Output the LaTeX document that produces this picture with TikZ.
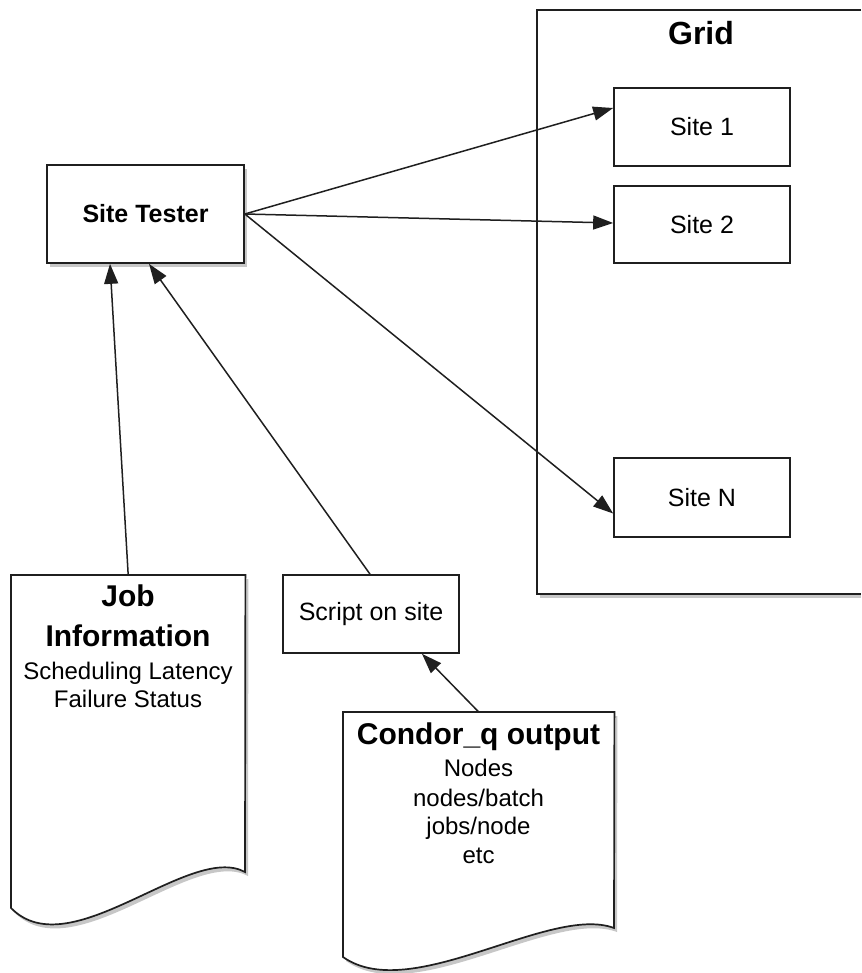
\documentclass[tikz,border=0pt]{standalone}
\usepackage{fontspec}
\setmainfont{Liberation Sans}
\usetikzlibrary{shadows,arrows.meta}
\begin{document}
\begin{tikzpicture}[x=1pt,y=1pt,
  box/.style={draw=black!88, line width=1.7pt, fill=white, inner sep=0pt},
  docline/.style={draw=black!88, line width=1.7pt, fill=white},
  shadowed/.style={drop shadow={shadow xshift=3pt, shadow yshift=-4pt, fill=black, opacity=0.22}},
  conn/.style={draw=black!88, line width=1.5pt, -{Triangle[length=20pt,width=14pt]}},
  lbl/.style={font=\fontsize{25}{30}\selectfont},
  frame/.style={inner sep=0pt, anchor=north west},
  doctitle/.style={anchor=base, inner sep=0pt, font=\fontsize{30}{36}\selectfont\bfseries},
  docbody/.style={anchor=base, inner sep=0pt, font=\fontsize{24}{28}\selectfont}
]
\useasboundingbox (0,0) rectangle (861,-973);
\clip (0,0) rectangle (861,-973);

% Grid container (its right side runs past the picture's edge)
\node[frame, minimum width=330pt, minimum height=584pt] (grid) at (537,-10) {};
\fill[black, opacity=0.22] (540,-14) rectangle (861,-598);
\fill[white] (grid.north west) rectangle (861,-594);
\draw[black!88, line width=1.7pt] (861,-10) -- (grid.north west) -- (537,-594) -- (861,-594);
\node[font=\fontsize{32}{38}\selectfont\bfseries] (gridlabel) at (701,-33) {Grid};

% Sites
\node[box, lbl, minimum width=176pt, minimum height=78pt] (site1) at (702,-127) {Site 1};
\node[box, lbl, minimum width=176pt, minimum height=77pt] (site2) at (702,-224.5) {Site 2};
\node[box, lbl, minimum width=176pt, minimum height=79pt] (siteN) at (702,-497.5) {Site N};

% Site tester
\node[box, shadowed, minimum width=197pt, minimum height=98pt, font=\fontsize{25}{30}\selectfont\bfseries] (tester) at (145.5,-214) {Site Tester};

% Script on site
\node[box, lbl, minimum width=176pt, minimum height=78pt] (script) at (371,-614) {Script on site};

% Job information document
\node[frame, minimum width=234pt, minimum height=353pt] (jobdoc) at (11,-575) {};
\draw[docline, shadowed] (jobdoc.north west) -- (jobdoc.north east) -- (245,-872)
  .. controls (190,-842) and (70,-968) .. (11,-908) -- cycle;
\node[doctitle] (jobt1) at (128,-606) {Job};
\node[doctitle] (jobt2) at (128,-646) {Information};
\node[docbody] (jobb1) at (128,-679) {Scheduling Latency};
\node[docbody] (jobb2) at (128,-707) {Failure Status};

% Condor_q output document
\node[frame, minimum width=271pt, minimum height=255pt] (condordoc) at (343,-712) {};
\draw[docline, shadowed] (condordoc.north west) -- (condordoc.north east) -- (614,-928)
  .. controls (550,-904) and (411,-1005) .. (343,-957) -- cycle;
\node[doctitle] (cont) at (478.5,-744) {Condor\_q output};
\node[docbody] (conb1) at (478.5,-776.5) {Nodes};
\node[docbody] (conb2) at (478.5,-806) {nodes/batch};
\node[docbody] (conb3) at (478.5,-834.5) {jobs/node};
\node[docbody] (conb4) at (478.5,-863) {etc};

% Connectors
\draw[conn] (tester.east) -- ([yshift=19pt]site1.west);
\draw[conn] (tester.east) -- ([yshift=1.5pt]site2.west);
\draw[conn] (tester.east) -- ([yshift=-16pt]siteN.west);
\draw[conn] (jobdoc.north) -- ([xshift=-35.5pt]tester.south);
\draw[conn] ([xshift=-1pt]script.north) -- ([xshift=3.5pt]tester.south);
\draw[conn] (condordoc.north) -- ([xshift=51pt]script.south);
\end{tikzpicture}
\end{document}
